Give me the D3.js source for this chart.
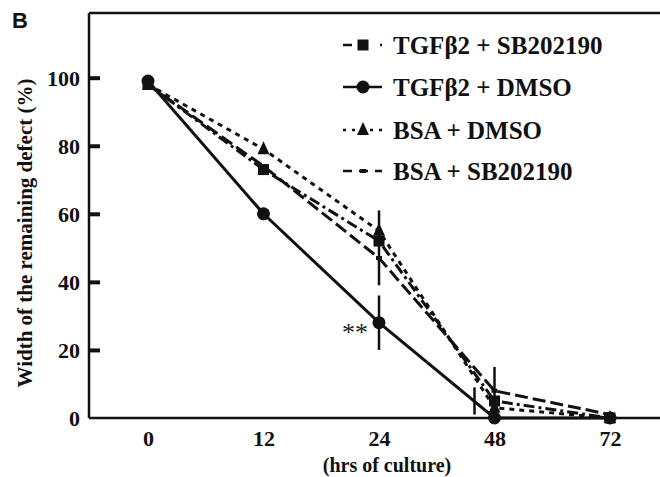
<!DOCTYPE html>
<html>
<head>
<meta charset="utf-8">
<script src="https://cdn.jsdelivr.net/npm/d3@7"></script>
<style>
  body { margin: 0; background: #fff; }
  text { font-family: "Liberation Serif", "Times New Roman", serif; font-weight: bold; fill: #111; }
</style>
</head>
<body>
<script>
// hours of culture (categorical x axis)
let hours = ['0', '12', '24', '48', '72']
let yTicks = [0, 20, 40, 60, 80, 100]

// width of remaining defect (%)
let tgfSb = [98, 73, 52, 5, 0]
let tgfDmso = [99, 60, 28, 0, 0]
let bsaDmso = [98, 79, 55, 3, 0]
let bsaSb = [98, 74, 47, 8, 1]

// error bars: [hour, center, half-width]
let errorBars = [
  ['24', 28, 8],
  ['24', 50, 11],
  ['48', 10, 5]
]

let series = [
  { name: 'TGF\u03b22 + SB202190', values: tgfSb, dash: '11,4,3,4', marker: 'square' },
  { name: 'TGF\u03b22 + DMSO', values: tgfDmso, dash: null, marker: 'circle' },
  { name: 'BSA + DMSO', values: bsaDmso, dash: '5,5', marker: 'triangle' },
  { name: 'BSA + SB202190', values: bsaSb, dash: '13,5', marker: 'small' }
]

let width = 660, height = 477
let margin = { left: 89, top: 13 }

let svg = d3.select('body').append('svg')
  .attr('width', width)
  .attr('height', height)

let x = d3.scalePoint().domain(hours).range([148, 610])
let y = d3.scaleLinear().domain([0, 100]).range([418, 77.7])

// frame: left axis, top border, bottom axis
svg.append('line')
  .attr('x1', margin.left).attr('x2', width)
  .attr('y1', margin.top).attr('y2', margin.top)
  .attr('stroke', '#111').attr('stroke-width', 2.5)
svg.append('line')
  .attr('x1', margin.left).attr('x2', width)
  .attr('y1', y(0)).attr('y2', y(0))
  .attr('stroke', '#111').attr('stroke-width', 2.5)
svg.append('line')
  .attr('x1', margin.left).attr('x2', margin.left)
  .attr('y1', margin.top).attr('y2', y(0))
  .attr('stroke', '#111').attr('stroke-width', 2.5)

// y axis with short inward ticks
let yAxis = svg.append('g')
  .attr('transform', `translate(${margin.left},0)`)
  .call(d3.axisRight(y).tickValues(yTicks).tickSize(11).tickFormat(''))
yAxis.select('.domain').remove()
yAxis.selectAll('.tick line').attr('stroke', '#111').attr('stroke-width', 4)
  .filter(d => d === 0).remove()

yAxis.selectAll('.tick').append('text')
  .attr('x', -9)
  .attr('dy', '0.36em')
  .attr('text-anchor', 'end')
  .style('font-size', '22px')
  .text(d => d)

// x axis labels (no tick marks)
let xAxis = svg.append('g')
  .attr('transform', `translate(0,${y(0)})`)
  .call(d3.axisBottom(x).tickSize(0).tickFormat(''))
xAxis.select('.domain').remove()
xAxis.selectAll('.tick').append('text')
  .attr('y', 28)
  .attr('text-anchor', 'middle')
  .style('font-size', '22px')
  .text(d => d)

svg.append('text')
  .attr('x', 387).attr('y', 472)
  .attr('text-anchor', 'middle')
  .style('font-size', '20px')
  .text('(hrs of culture)')

svg.append('text')
  .attr('transform', 'translate(32,233) rotate(-90)')
  .attr('text-anchor', 'middle')
  .style('font-size', '21px')
  .text('Width of the remaining defect (%)')

svg.append('text')
  .attr('x', 12).attr('y', 28)
  .style('font-family', '"Liberation Sans", Arial, sans-serif')
  .style('font-size', '22px')
  .text('B')

// lines
let line = d3.line()
  .x((d, i) => x(hours[i]))
  .y(d => y(d))

series.forEach(s => {
  svg.append('path')
    .datum(s.values)
    .attr('d', line)
    .attr('fill', 'none')
    .attr('stroke', '#111')
    .attr('stroke-width', 3)
    .attr('stroke-dasharray', s.dash)
})

// error bars
svg.selectAll('.err')
  .data(errorBars)
  .enter()
  .append('line')
  .attr('class', 'err')
  .attr('x1', d => x(d[0])).attr('x2', d => x(d[0]))
  .attr('y1', d => y(d[1] + d[2])).attr('y2', d => y(d[1] - d[2]))
  .attr('stroke', '#111').attr('stroke-width', 2.5)

// extra error bar drawn a bit left of the 48 h point
svg.append('line')
  .attr('x1', x('48') - 20).attr('x2', x('48') - 20)
  .attr('y1', y(9)).attr('y2', y(1))
  .attr('stroke', '#111').attr('stroke-width', 2.5)

function drawMarker(g, type, cx, cy) {
  if (type === 'circle') {
    g.append('circle').attr('cx', cx).attr('cy', cy).attr('r', 6.5).attr('fill', '#111')
  } else if (type === 'square') {
    g.append('rect').attr('x', cx - 5.5).attr('y', cy - 5.5).attr('width', 11).attr('height', 11).attr('fill', '#111')
  } else if (type === 'triangle') {
    g.append('path')
      .attr('d', `M${cx},${cy - 8}L${cx + 6},${cy + 5}L${cx - 6},${cy + 5}Z`)
      .attr('fill', '#111')
  } else {
    g.append('rect').attr('x', cx - 3).attr('y', cy - 2).attr('width', 6).attr('height', 4).attr('fill', '#111')
  }
}

let markers = svg.append('g')
series.forEach(s => {
  s.values.forEach((v, i) => drawMarker(markers, s.marker, x(hours[i]), y(v)))
})

svg.append('text')
  .attr('x', 355).attr('y', 341)
  .attr('text-anchor', 'middle')
  .style('font-size', '26px')
  .style('font-weight', 'normal')
  .style('fill', '#222')
  .text('**')

// legend
let legendY = [45, 87, 130, 171]
let legendDash = ['9,6,2,20', null, '3,6', '9,7']
let legend = svg.append('g')
series.forEach((s, i) => {
  let ly = legendY[i]
  legend.append('line')
    .attr('x1', 343).attr('x2', 382)
    .attr('y1', ly).attr('y2', ly)
    .attr('stroke', '#111').attr('stroke-width', 2.5)
    .attr('stroke-dasharray', legendDash[i])
  drawMarker(legend, s.marker, 363, ly)
  legend.append('text')
    .attr('x', 393).attr('y', ly + 9)
    .style('font-size', '25px')
    .text(s.name)
})
</script>
</body>
</html>
